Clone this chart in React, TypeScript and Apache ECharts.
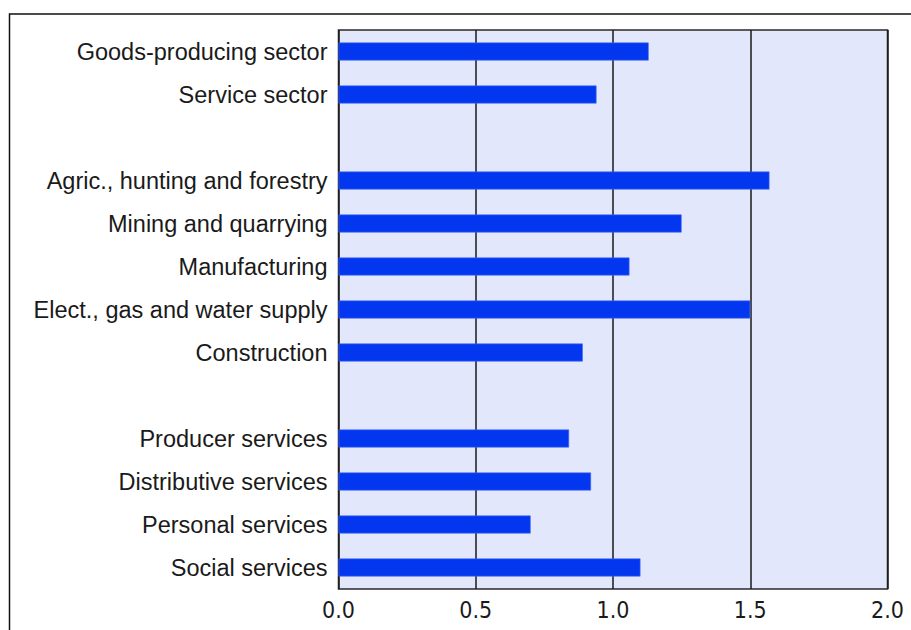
import React, { useEffect, useRef } from "react";
import * as echarts from "echarts";

const categories = [
  "Goods-producing sector",
  "Service sector",
  "",
  "Agric., hunting and forestry",
  "Mining and quarrying",
  "Manufacturing",
  "Elect., gas and water supply",
  "Construction",
  "",
  "Producer services",
  "Distributive services",
  "Personal services",
  "Social services",
];

const values: (number | null)[] = [
  1.13, 0.94, null, 1.57, 1.25, 1.06, 1.5, 0.89, null, 0.84, 0.92, 0.7, 1.1,
];

const xTicks = { min: 0, max: 2, interval: 0.5 };

export default function App() {
  const ref = useRef<HTMLDivElement>(null);
  useEffect(() => {
    document.body.style.margin = "0";
    const chart = echarts.init(ref.current!, null, { renderer: "svg" });
    chart.setOption({
      animation: false,
      backgroundColor: "#ffffff",
      graphic: [
        {
          type: "rect",
          shape: { x: 9.5, y: 14, width: 1000, height: 1000 },
          style: { fill: "none", stroke: "#111", lineWidth: 1.5 },
          silent: true,
        },
      ],
      grid: {
        left: 338.5,
        right: 23.5,
        top: 30,
        bottom: 41,
        show: true,
        backgroundColor: "#e2e7fb",
        borderColor: "#2a2a2a",
        borderWidth: 1.5,
        containLabel: false,
      },
      xAxis: {
        type: "value",
        min: xTicks.min,
        max: xTicks.max,
        interval: xTicks.interval,
        axisLine: { show: false },
        axisTick: { show: false },
        splitLine: { show: true, lineStyle: { color: "#1a1a1a", width: 1.5 } },
        axisLabel: {
          margin: 9,
          color: "#1a1a1a",
          fontSize: 23,
          fontFamily: "'Liberation Sans Narrow', 'Arial Narrow', 'DejaVu Sans Condensed', sans-serif",
          formatter: (v: number) => v.toFixed(1),
        },
      },
      yAxis: {
        type: "category",
        data: categories,
        inverse: true,
        axisLine: { show: false },
        axisTick: { show: false },
        splitLine: { show: false },
        axisLabel: {
          margin: 11,
          color: "#1a1a1a",
          fontSize: 23.5,
          padding: [0, 0, 4, 0],
          fontFamily: "'Liberation Sans', Arial, sans-serif",
        },
      },
      series: [
        {
          type: "bar",
          data: values,
          barWidth: 18,
          itemStyle: { color: "#0336ef", borderColor: "#4a6cf5", borderWidth: 0.6 },
        },
      ],
    });
    return () => chart.dispose();
  }, []);
  return <div ref={ref} style={{ width: 911, height: 630 }} />;
}
